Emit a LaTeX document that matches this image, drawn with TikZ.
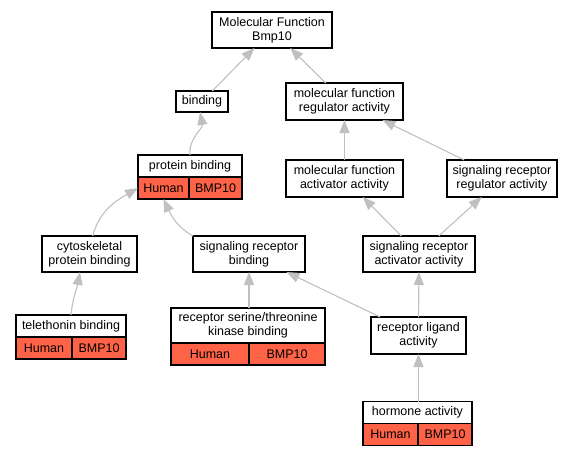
\documentclass[tikz,border=0pt]{standalone}
\usepackage{fontspec}
\setmainfont{Liberation Sans}
\usetikzlibrary{arrows.meta}
\definecolor{cellred}{HTML}{FF6347}
\definecolor{edgegray}{HTML}{C0C0C0}
\begin{document}
\begin{tikzpicture}[x=1pt, y=1pt, every node/.style={draw=black, line width=1.1pt, fill=white, align=center, inner sep=0pt, outer sep=0pt, font=\fontsize{12.5}{14}\selectfont},
cell/.style={fill=cellred, anchor=north west, minimum height=22pt},
edge/.style={edgegray, line width=1.1pt, -{Triangle[length=13pt,width=10pt]}}]
\useasboundingbox (0,0) rectangle (576,-456);

\node[minimum width=120pt, minimum height=36pt] (mf) at (272,-30) {Molecular Function\\Bmp10};
\node[minimum width=52pt, minimum height=21pt] (binding) at (202,-101.5) {binding};
\node[minimum width=117pt, minimum height=37pt] (mfreg) at (344.5,-101.5) {molecular function\\regulator activity};
\node[minimum width=104pt, minimum height=22pt] (pb) at (190,-166) {protein binding};
\node[cell, minimum width=51pt] (pbhuman) at (pb.south west) {Human};
\node[cell, minimum width=53pt] (pbbmp) at (pbhuman.north east) {BMP10};
\node[minimum width=117pt, minimum height=37pt] (mfact) at (344.5,-178.5) {molecular function\\activator activity};
\node[minimum width=110pt, minimum height=37pt] (srreg) at (502,-178.5) {signaling receptor\\regulator activity};
\node[minimum width=95pt, minimum height=36pt] (cyto) at (89.5,-254) {cytoskeletal\\protein binding};
\node[minimum width=112pt, minimum height=36pt] (srb) at (249,-254) {signaling receptor\\binding};
\node[minimum width=112pt, minimum height=36pt] (sraa) at (419,-254) {signaling receptor\\activator activity};
\node[minimum width=110pt, minimum height=22pt] (tele) at (71,-326) {telethonin binding};
\node[cell, minimum width=56pt] (telehuman) at (tele.south west) {Human};
\node[cell, minimum width=54pt] (telebmp) at (telehuman.north east) {BMP10};
\node[minimum width=154pt, minimum height=35pt] (rstk) at (248,-325.5) {receptor serine/threonine\\kinase binding};
\node[cell, minimum width=78pt] (rstkhuman) at (rstk.south west) {Human};
\node[cell, minimum width=76pt] (rstkbmp) at (rstkhuman.north east) {BMP10};
\node[minimum width=95pt, minimum height=37pt] (rla) at (418.5,-335.5) {receptor ligand\\activity};
\node[minimum width=109pt, minimum height=22pt] (horm) at (417.5,-412.5) {hormone activity};
\node[cell, minimum width=55pt] (hormhuman) at (horm.south west) {Human};
\node[cell, minimum width=54pt] (hormbmp) at (hormhuman.north east) {BMP10};

% is_a edges
\draw[edge] (binding) -- (mf);
\draw[edge] (mfreg) -- (mf);
\draw[edge] (pb.north) to[out=95, in=-80] (binding.-100);
\draw[edge] (mfact) -- (mfreg);
\draw[edge] (srreg) -- (mfreg);
\draw[edge] (cyto.80) to[out=75, in=210] (pbhuman.west);
\draw[edge] (srb.north west) to[out=150, in=-65] (pbhuman.south);
\draw[edge] (sraa) -- (mfact);
\draw[edge] (sraa) -- (srreg);
\draw[edge] (tele.north) to[out=85, in=-100] (cyto.-118);
\draw[edge] (rstk.north -| srb) -- (srb);
\draw[edge] (rla) -- (srb);
\draw[edge] (rla) -- (sraa);
\draw[edge] (horm.north -| rla) -- (rla);
\end{tikzpicture}
\end{document}
